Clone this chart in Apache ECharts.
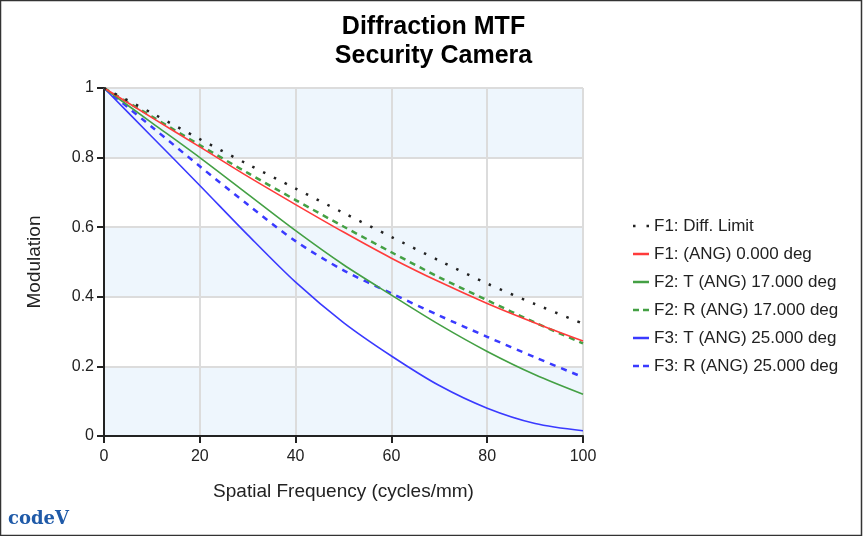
<!DOCTYPE html>
<html>
<head>
<meta charset="utf-8">
<script src="https://cdn.jsdelivr.net/npm/echarts@6/dist/echarts.min.js"></script>
<style>
html,body{margin:0;padding:0;background:#fff;}
#chart{width:867px;height:536px;}
</style>
</head>
<body>
<div id="chart"></div>
<script>
// ---- data ----
var freq = [0, 10, 20, 30, 40, 50, 60, 70, 80, 90, 100];
var diffLimit = [1, 0.928, 0.853, 0.781, 0.711, 0.641, 0.572, 0.504, 0.438, 0.379, 0.323];
var f1Ang0   = [1, 0.915, 0.831, 0.746, 0.665, 0.586, 0.511, 0.443, 0.381, 0.325, 0.273];
var f2T17    = [1, 0.900, 0.800, 0.695, 0.590, 0.492, 0.405, 0.320, 0.243, 0.176, 0.120];
var f2R17    = [1, 0.918, 0.836, 0.756, 0.678, 0.602, 0.528, 0.456, 0.390, 0.326, 0.266];
var f3T25    = [1, 0.860, 0.720, 0.578, 0.442, 0.326, 0.230, 0.145, 0.080, 0.036, 0.015];
var f3R25    = [1, 0.888, 0.775, 0.665, 0.560, 0.476, 0.410, 0.346, 0.285, 0.226, 0.169];
var seriesNames = ['F1: Diff. Limit', 'F1: (ANG) 0.000 deg', 'F2: T (ANG) 17.000 deg',
                   'F2: R (ANG) 17.000 deg', 'F3: T (ANG) 25.000 deg', 'F3: R (ANG) 25.000 deg'];
var xTicks = [0, 20, 40, 60, 80, 100];
var yTicks = [0, 0.2, 0.4, 0.6, 0.8, 1];

function pairs(ys) { return freq.map(function (x, i) { return [x, ys[i]]; }); }

var FONT = '"Liberation Sans", Arial, sans-serif';
var ICON_DOT = 'path://M0,0h2.5v2.5h-2.5zM13.5,0h2.5v2.5h-2.5z';
var ICON_DASH = 'path://M0,0h6v2.5h-6zM10,0h6v2.5h-6z';
var ICON_SOLID = 'path://M0,0h16v2.5h-16z';
var styles = [
  {color: '#222222', width: 2.5, type: [2.5, 9.5], icon: ICON_DOT},
  {color: '#ff3b3b', width: 1.6, type: 'solid', icon: ICON_SOLID},
  {color: '#44a044', width: 1.6, type: 'solid', icon: ICON_SOLID},
  {color: '#44a044', width: 2.5, type: [6, 5], icon: ICON_DASH},
  {color: '#3a3aff', width: 1.6, type: 'solid', icon: ICON_SOLID},
  {color: '#3a3aff', width: 2.5, type: [6, 6], icon: ICON_DASH}
];
var datas = [diffLimit, f1Ang0, f2T17, f2R17, f3T25, f3R25];

var chart = echarts.init(document.getElementById('chart'), null, {renderer: 'canvas'});
chart.setOption({
  animation: false,
  backgroundColor: '#fff',
  title: {
    text: 'Diffraction MTF\nSecurity Camera',
    left: 'center', top: 8,
    textStyle: {fontFamily: FONT, fontSize: 25, fontWeight: 'bold', color: '#000', lineHeight: 29}
  },
  legend: {
    orient: 'vertical', left: 628, top: 212,
    itemWidth: 16, itemHeight: 2.5, itemGap: 10,
    textStyle: {fontFamily: FONT, fontSize: 17, color: '#222', lineHeight: 18},
    data: seriesNames.map(function (n, i) {
      return {name: n, icon: styles[i].icon, itemStyle: {color: styles[i].color}};
    })
  },
  grid: {left: 104, top: 88, width: 479, height: 348, containLabel: false},
  xAxis: {
    type: 'value', min: xTicks[0], max: xTicks[xTicks.length - 1], interval: 20,
    name: 'Spatial Frequency (cycles/mm)', nameLocation: 'middle', nameGap: 46,
    nameTextStyle: {fontFamily: FONT, fontSize: 19, color: '#222'},
    axisLine: {show: true, lineStyle: {color: '#222', width: 2}},
    axisTick: {show: true, length: 7, lineStyle: {color: '#222', width: 2}},
    axisLabel: {fontFamily: FONT, fontSize: 16, color: '#222', margin: 13},
    splitLine: {show: true, lineStyle: {color: '#dcdcdc', width: 2}}
  },
  yAxis: {
    type: 'value', min: yTicks[0], max: yTicks[yTicks.length - 1], interval: 0.2,
    name: 'Modulation', nameLocation: 'middle', nameGap: 60,
    nameTextStyle: {fontFamily: FONT, fontSize: 19, color: '#222'},
    axisLine: {show: true, lineStyle: {color: '#222', width: 2}},
    axisTick: {show: true, length: 7, lineStyle: {color: '#222', width: 2}},
    axisLabel: {fontFamily: FONT, fontSize: 16, color: '#222', margin: 10},
    splitLine: {show: true, lineStyle: {color: '#dcdcdc', width: 2}},
    splitArea: {show: true, areaStyle: {color: ['#eef6fd', '#ffffff']}}
  },
  graphic: [
    {type: 'rect', shape: {x: 0.5, y: 0.5, width: 861, height: 535},
     style: {fill: 'none', stroke: '#333', lineWidth: 1.5}, silent: true, z: 100},
    {type: 'text', left: 8, top: 510,
     style: {text: 'codeV', font: 'bold 18px "DejaVu Serif", serif', fill: '#1f5aa8'}}
  ],
  series: datas.map(function (d, i) {
    return {
      name: seriesNames[i], type: 'line', data: pairs(d),
      showSymbol: false, symbol: 'none', smooth: 0.3,
      lineStyle: {color: styles[i].color, width: styles[i].width, type: styles[i].type, cap: 'butt'},
      itemStyle: {color: styles[i].color},
      z: 10 - i
    };
  })
});
</script>
</body>
</html>
